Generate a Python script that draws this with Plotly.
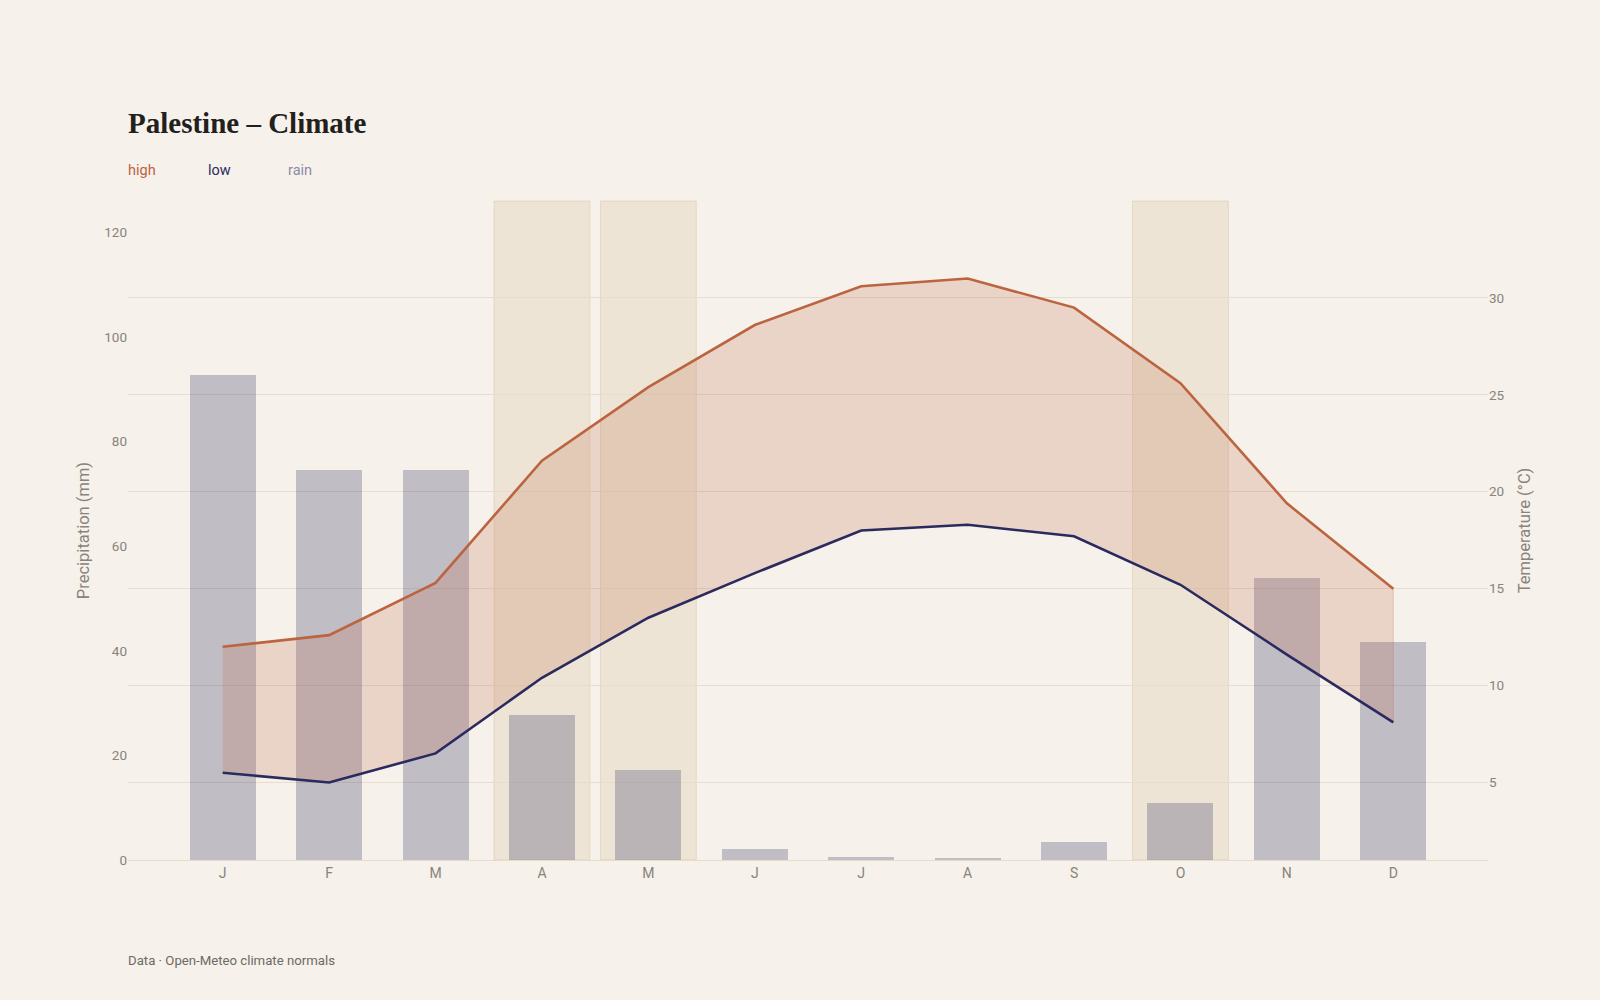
import plotly.graph_objects as go

month_labels = ["J", "F", "M", "A", "M", "J", "J", "A", "S", "O", "N", "D"]
high_c = [12.0, 12.6, 15.3, 21.6, 25.4, 28.6, 30.6, 31.0, 29.5, 25.6, 19.4, 15.0]
low_c = [5.5, 5.0, 6.5, 10.4, 13.5, 15.8, 18.0, 18.3, 17.7, 15.2, 11.6, 8.1]
rain_mm = [92.7, 74.5, 74.5, 27.7, 17.2, 2.1, 0.6, 0.4, 3.5, 10.9, 53.9, 41.6]
highlighted = [False, False, False, True, True, False, False, False, False, True, False, False]

BG = "#F6F1EA"
HIGH = "#BC6440"
LOW = "#2B2A5E"
RAIN_TXT = "#8C89AB"
TICK = "#88837B"
GRID = "#E6DDCC"
SANS = "Roboto, Inter, sans-serif"

x = list(range(len(month_labels)))

fig = go.Figure()

fig.add_trace(go.Bar(
    x=x, y=rain_mm, width=0.62, yaxis="y",
    marker=dict(color="rgba(43,42,94,0.26)", line=dict(width=0)),
    name="rain", showlegend=False, hoverinfo="skip",
))

fig.add_trace(go.Scatter(
    x=x + x[::-1], y=high_c + low_c[::-1], yaxis="y2",
    fill="toself", fillcolor="rgba(188,100,64,0.20)",
    line=dict(color="rgba(188,100,64,0.25)", width=1),
    mode="lines", showlegend=False, hoverinfo="skip",
))

fig.add_trace(go.Scatter(
    x=x, y=high_c, yaxis="y2", mode="lines",
    line=dict(color=HIGH, width=2.6), name="high", showlegend=False,
))
fig.add_trace(go.Scatter(
    x=x, y=low_c, yaxis="y2", mode="lines",
    line=dict(color=LOW, width=2.6), name="low", showlegend=False,
))

shapes = []
for i, h in enumerate(highlighted):
    if h:
        shapes.append(dict(
            type="rect", xref="x", yref="paper",
            x0=i - 0.45, x1=i + 0.45, y0=0, y1=1,
            fillcolor="rgba(200,170,120,0.18)",
            line=dict(color="rgba(200,170,120,0.28)", width=1),
            layer="below",
        ))

W, H = 1600, 1000
L, R, T, B = 128, 112, 201, 140
pw, ph = W - L - R, H - T - B


def px_to_paper(px, py):
    return (px - L) / pw, (H - B - py) / ph


def canvas_note(text, px, py, size, color):
    ax, ay = px_to_paper(px, py)
    return dict(text=text, x=ax, y=ay, xref="paper", yref="paper",
                showarrow=False, xanchor="left", yanchor="middle",
                font=dict(family=SANS, size=size, color=color))


annotations = [
    canvas_note("high", 126, 170, 14.5, HIGH),
    canvas_note("low", 206, 170, 14.5, LOW),
    canvas_note("rain", 286, 170, 14.5, RAIN_TXT),
    canvas_note("Data · Open-Meteo climate normals", 126, 960, 13.2, "#6E6A64"),
]

fig.update_layout(
    width=W, height=H,
    paper_bgcolor=BG, plot_bgcolor=BG,
    margin=dict(l=L, r=R, t=T, b=B),
    showlegend=False,
    bargap=0,
    title=dict(
        text="<b>Palestine – Climate</b>",
        x=128 / W, xanchor="left", xref="container",
        y=1 - 123 / H, yanchor="middle", yref="container",
        font=dict(family="Liberation Serif, DejaVu Serif, serif", size=29, color="#22201C"),
    ),
    xaxis=dict(
        range=[-0.89, 11.89],
        tickmode="array", tickvals=x, ticktext=month_labels,
        showgrid=False, zeroline=False,
        showline=True, linecolor="#E4DBCB", linewidth=1,
        ticks="", tickfont=dict(family=SANS, size=14, color=TICK),
    ),
    yaxis=dict(
        range=[0, 126],
        tickmode="array", tickvals=[0, 20, 40, 60, 80, 100, 120],
        showgrid=False, zeroline=False, showline=False, ticks="",
        tickfont=dict(family=SANS, size=13.5, color=TICK),
        title=dict(text="Precipitation (mm)", standoff=10,
                   font=dict(family=SANS, size=16.5, color=TICK)),
    ),
    yaxis2=dict(
        range=[1, 35], overlaying="y", side="right",
        tickmode="array", tickvals=[5, 10, 15, 20, 25, 30],
        showgrid=True, gridcolor=GRID, gridwidth=1,
        zeroline=False, showline=False, ticks="",
        tickfont=dict(family=SANS, size=13.5, color=TICK),
        title=dict(text="Temperature (°C)", standoff=14,
                   font=dict(family=SANS, size=16.5, color=TICK)),
    ),
    shapes=shapes,
    annotations=annotations,
)

fig.write_html(
    "out.html",
    config={"displayModeBar": False},
    post_script="document.body.style.margin='0';document.body.style.background='#F6F1EA';",
)
